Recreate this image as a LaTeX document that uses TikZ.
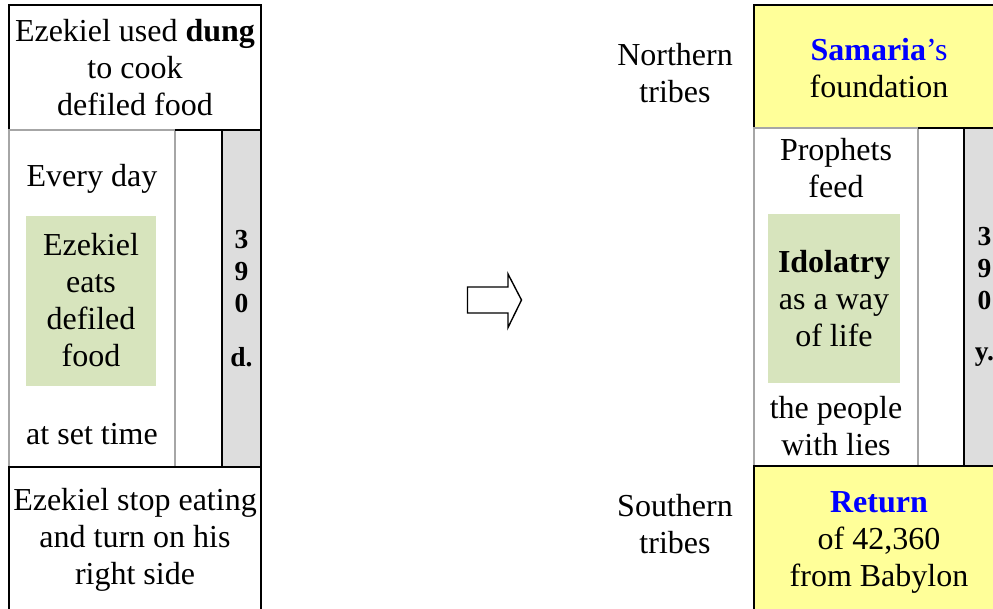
\documentclass[tikz,border=0pt]{standalone}
\usepackage{fontspec}
\setmainfont{Liberation Serif}
\definecolor{boxyellow}{HTML}{FFFF99}
\definecolor{boxgreen}{HTML}{D7E4BD}
\definecolor{bargray}{HTML}{DDDDDD}
\definecolor{innergray}{HTML}{A6A6A6}
\definecolor{txtblue}{HTML}{0000FF}
\begin{document}
\begin{tikzpicture}[x=1pt,y=-1pt,
  frame/.style={draw=black, line width=1.6pt, rectangle, anchor=north west, inner sep=0pt, outer sep=0pt},
  innerbox/.style={draw=innergray, line width=1.6pt, rectangle, anchor=north west, inner sep=0pt, outer sep=0pt},
  greenbox/.style={fill=boxgreen, rectangle, anchor=north west, inner sep=0pt, outer sep=0pt},
  txt/.style={font=\fontsize{32}{37}\selectfont, align=center, inner sep=0pt},
  num/.style={font=\fontsize{27.5}{32}\selectfont\bfseries, align=center, inner sep=0pt}]
\useasboundingbox (0,0) rectangle (993,608);
\clip (0,0) rectangle (993,608);
\fill[white] (0,0) rectangle (993,608);

% ---------- left column ----------
\node[frame, minimum width=252, minimum height=125] (ltop) at (9,5) {};
\node[innerbox, minimum width=166, minimum height=337] (lin) at (9,130) {};
\node[frame, fill=bargray, minimum width=39, minimum height=337] (lbar) at (222,130) {};
\node[frame, minimum width=252, minimum height=160] (lbot) at (9,467) {};
\draw[line width=1.6pt] (lin.north east) -- (lbar.north west);
\draw[line width=1.6pt] (lin.south east) -- (lbar.south west);
\node[greenbox, minimum width=130, minimum height=170] (lgreen) at (26,216) {};

\node[txt] (ltoptxt) at (135,68) {Ezekiel used \textbf{dung}\\to cook\\defiled food};
\node[txt] (levery) at (92,179) {Every day};
\node[txt] (leats) at (91,300) {Ezekiel\\eats\\defiled\\food};
\node[txt] (lset) at (92,434) {at set time};
\node[num] (lnum) at (241.5,272) {3\\9\\0};
\node[num] (lunit) at (241.5,357) {d.};
\node[txt] (lbottxt) at (135,539.5) {Ezekiel stop eating\\and turn on his\\right side};

% ---------- arrow ----------
\draw[line width=1.4pt, fill=white]
  (467.5,287) -- (508,287) -- (508,274) -- (521.5,300) -- (508,327.5)
  -- (508,313) -- (467.5,313) -- cycle;

% ---------- right column ----------
\node[frame, fill=boxyellow, minimum width=256, minimum height=123] (rtop) at (754,5) {};
\node[innerbox, minimum width=164, minimum height=338] (rin) at (754,128) {};
\node[frame, fill=bargray, minimum width=46, minimum height=338] (rbar) at (964,128) {};
\node[frame, fill=boxyellow, minimum width=256, minimum height=160] (rbot) at (754,466) {};
\draw[line width=1.6pt] (rin.north east) -- (rbar.north west);
\draw[line width=1.6pt] (rin.south east) -- (rbar.south west);
\node[greenbox, minimum width=132, minimum height=169] (rgreen) at (768,214) {};

\node[txt] (rtoptxt) at (879,68) {\textcolor{txtblue}{\textbf{Samaria}’s}\\foundation};
\node[txt] (rfeed) at (836,168) {Prophets\\feed};
\node[txt] (ridol) at (834,299) {\textbf{Idolatry}\\as a way\\of life};
\node[txt] (rlies) at (836,426) {the people\\with lies};
\node[num] (rnum) at (984.5,269) {3\\9\\0};
\node[num] (runit) at (984.5,357) {y.};
\node[txt] (rbottxt) at (879,542.5) {\textcolor{txtblue}{\textbf{Return}}\\of 42,360\\from Babylon};

\node[txt] (north) at (675,73) {Northern\\tribes};
\node[txt] (south) at (675,524) {Southern\\tribes};
\end{tikzpicture}
\end{document}
